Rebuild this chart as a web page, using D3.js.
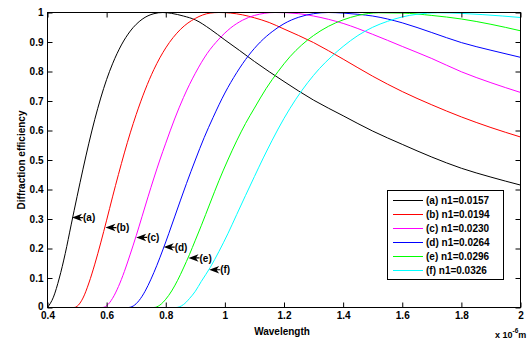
<!DOCTYPE html>
<html>
<head>
<meta charset="utf-8">
<script src="https://cdn.jsdelivr.net/npm/d3@7"></script>
<style>
  html, body { margin: 0; padding: 0; background: #fff; }
  text { font-family: "Liberation Sans", Arial, sans-serif; font-weight: bold; fill: #000; }
</style>
</head>
<body>
<script>
// ---- data (wavelength in units of 1e-6 m, diffraction efficiency) ----
const wlA = [0.40,0.42,0.44,0.46,0.48,0.50,0.52,0.54,0.56,0.58,0.60,0.62,0.65,0.68,0.72,0.76,0.79,0.82,0.86,0.90,0.95,1.00,1.05,1.10,1.20,1.30,1.40,1.50,1.60,1.70,1.80,1.90,2.00];
const effA = [0,0.035,0.10,0.183,0.28,0.376,0.469,0.557,0.638,0.71,0.773,0.826,0.89,0.937,0.977,0.996,1.0,0.997,0.988,0.975,0.944,0.907,0.871,0.834,0.766,0.703,0.65,0.598,0.553,0.51,0.472,0.442,0.415];

const wlB = [0.48,0.49,0.50,0.52,0.54,0.56,0.58,0.60,0.62,0.64,0.66,0.68,0.70,0.73,0.76,0.80,0.85,0.90,0.95,0.98,1.02,1.06,1.10,1.15,1.20,1.30,1.40,1.50,1.60,1.70,1.80,1.90,2.00];
const effB = [0,0,0.004,0.032,0.083,0.147,0.219,0.296,0.375,0.451,0.524,0.592,0.654,0.737,0.807,0.88,0.943,0.98,0.998,1.0,0.998,0.992,0.982,0.966,0.944,0.898,0.842,0.784,0.732,0.687,0.646,0.61,0.578];

const wlC = [0.575,0.585,0.60,0.62,0.64,0.66,0.68,0.70,0.72,0.74,0.76,0.78,0.80,0.83,0.86,0.90,0.94,0.98,1.02,1.06,1.10,1.17,1.25,1.30,1.40,1.50,1.60,1.70,1.80,1.90,2.00];
const effC = [0,0,0.006,0.031,0.071,0.122,0.181,0.243,0.309,0.375,0.439,0.50,0.557,0.639,0.712,0.794,0.861,0.91,0.948,0.974,0.99,1.0,0.996,0.988,0.963,0.926,0.885,0.844,0.799,0.762,0.729];

const wlD = [0.655,0.675,0.69,0.71,0.73,0.75,0.77,0.79,0.81,0.83,0.85,0.87,0.90,0.93,0.96,1.00,1.04,1.08,1.12,1.16,1.20,1.25,1.30,1.35,1.40,1.45,1.50,1.60,1.70,1.80,1.90,2.00];
const effD = [0,0,0.005,0.024,0.055,0.096,0.143,0.195,0.25,0.307,0.364,0.42,0.50,0.576,0.644,0.727,0.796,0.854,0.90,0.935,0.962,0.984,0.996,1.0,0.998,0.994,0.988,0.965,0.932,0.898,0.872,0.848];

const wlE = [0.755,0.76,0.78,0.80,0.82,0.84,0.86,0.88,0.90,0.92,0.95,0.98,1.01,1.04,1.07,1.10,1.14,1.18,1.22,1.26,1.30,1.35,1.40,1.45,1.52,1.60,1.70,1.80,1.90,2.00];
const effE = [0,0,0.008,0.028,0.056,0.092,0.134,0.179,0.228,0.277,0.354,0.43,0.50,0.565,0.624,0.676,0.743,0.80,0.85,0.89,0.922,0.953,0.975,0.99,0.999,0.998,0.99,0.978,0.96,0.938];

const wlF = [0.82,0.835,0.86,0.88,0.90,0.92,0.95,0.98,1.01,1.04,1.07,1.10,1.13,1.16,1.20,1.24,1.28,1.32,1.36,1.40,1.45,1.50,1.55,1.60,1.65,1.72,1.80,1.87,1.94,2.00];
const effF = [0,0,0.01,0.03,0.055,0.088,0.135,0.19,0.25,0.315,0.38,0.444,0.507,0.567,0.641,0.706,0.762,0.81,0.85,0.885,0.922,0.95,0.97,0.985,0.994,0.999,0.997,0.993,0.988,0.983];

const seriesIds = ["a","b","c","d","e","f"];
const n1Values = ["0.0157","0.0194","0.0230","0.0264","0.0296","0.0326"];
const seriesColors = ["#000000","#ff0000","#ff00ff","#0000ff","#00ff00","#00ffff"];

// annotation arrows (tip position in data units)
const arrowWl = [0.483,0.596,0.700,0.793,0.877,0.947];
const arrowEff = [0.305,0.271,0.2375,0.205,0.168,0.128];

const xTicks = [0.4,0.6,0.8,1.0,1.2,1.4,1.6,1.8,2.0];
const xTickLabels = ["0.4","0.6","0.8","1","1.2","1.4","1.6","1.8","2"];
const yTicks = [0,0.1,0.2,0.3,0.4,0.5,0.6,0.7,0.8,0.9,1];
const yTickLabels = ["0","0.1","0.2","0.3","0.4","0.5","0.6","0.7","0.8","0.9","1"];

// ---- drawing ----
const W = 529, H = 342;
const L = 47.5, R = 520.5, T = 12.5, B = 307.5;
const svg = d3.select("body").append("svg").attr("width", W).attr("height", H);

const x = d3.scaleLinear().domain([0.4, 2]).range([L, R]);
const y = d3.scaleLinear().domain([0, 1]).range([B, T]);

const wls = [wlA, wlB, wlC, wlD, wlE, wlF];
const effs = [effA, effB, effC, effD, effE, effF];
const series = seriesIds.map((id, i) => ({
  id, n1: n1Values[i], color: seriesColors[i],
  pts: wls[i].map((w, j) => [w, effs[i][j]])
}));

svg.append("clipPath").attr("id", "clip")
  .append("rect").attr("x", L).attr("y", T - 1).attr("width", R - L).attr("height", B - T + 1);

const line = d3.line().x(d => x(d[0])).y(d => y(d[1])).curve(d3.curveMonotoneX);
svg.append("g").attr("clip-path", "url(#clip)")
  .selectAll("path").data(series).join("path")
  .attr("d", d => line(d.pts))
  .attr("fill", "none").attr("stroke", d => d.color).attr("stroke-width", 1);

// axes with inward ticks
const fmtX = d => xTickLabels[xTicks.indexOf(d)];
const fmtY = d => yTickLabels[yTicks.indexOf(d)];
const gx = svg.append("g").attr("transform", `translate(0,${B})`)
  .call(d3.axisBottom(x).tickValues(xTicks).tickFormat(fmtX).tickSize(-5).tickPadding(4.5));
const gy = svg.append("g").attr("transform", `translate(${L},0)`)
  .call(d3.axisLeft(y).tickValues(yTicks).tickFormat(fmtY).tickSize(-5).tickPadding(4));
const gt = svg.append("g").attr("transform", `translate(0,${T})`)
  .call(d3.axisTop(x).tickValues(xTicks).tickFormat("").tickSize(-5));
const gr = svg.append("g").attr("transform", `translate(${R},0)`)
  .call(d3.axisRight(y).tickValues(yTicks).tickFormat("").tickSize(-5));
[gx, gy, gt, gr].forEach(g => {
  g.select(".domain").remove();
  g.selectAll("line").attr("stroke", "#000");
  g.selectAll("text").attr("font-size", 10).attr("font-family", '"Liberation Sans", Arial, sans-serif').attr("font-weight", "bold");
});
// lift the "0" label slightly so it does not touch "0.4"
gy.selectAll(".tick").filter(d => d === 0).select("text").attr("dy", "0.2em");
svg.append("rect").attr("x", L).attr("y", T).attr("width", R - L).attr("height", B - T)
  .attr("fill", "none").attr("stroke", "#000").attr("stroke-width", 1);

// axis titles
svg.append("text").attr("x", (L + R) / 2 - 2).attr("y", 334.5).attr("text-anchor", "middle")
  .attr("font-size", 10).text("Wavelength");
svg.append("text").attr("transform", `translate(25,${(T + B) / 2}) rotate(-90)`)
  .attr("text-anchor", "middle").attr("font-size", 10).text("Diffraction efficiency");
const ex = svg.append("text").attr("x", 495).attr("y", 338).attr("font-size", 9);
ex.append("tspan").text("x 10");
ex.append("tspan").attr("font-size", 6.5).attr("dy", -5).text("-6");
ex.append("tspan").attr("dy", 5).text("m");

// annotation arrows
const ann = svg.append("g").selectAll("g").data(series).join("g")
  .attr("transform", (d, i) => `translate(${x(arrowWl[i])},${y(arrowEff[i])})`);
ann.append("path").attr("d", "M0,0 L10,-3.8 L7.2,0 L10,3.8 Z M7,-0.6 L11,-0.6 L11,0.6 L7,0.6 Z").attr("fill", "#000");
ann.append("text").attr("x", 11).attr("dy", "0.36em").attr("font-size", 10).text(d => `(${d.id})`);

// legend
const lg = svg.append("g");
lg.append("rect").attr("x", 387.5).attr("y", 190.5).attr("width", 116).attr("height", 89)
  .attr("fill", "#fff").attr("stroke", "#000").attr("stroke-width", 1);
const rows = lg.selectAll("g.row").data(series).join("g").attr("class", "row")
  .attr("transform", (d, i) => `translate(0,${200.5 + i * 14})`);
rows.append("line").attr("x1", 393).attr("x2", 423).attr("y1", 0).attr("y2", 0)
  .attr("stroke", d => d.color).attr("stroke-width", 1);
rows.append("text").attr("x", 426).attr("dy", "0.36em").attr("font-size", 10)
  .text(d => `(${d.id}) n1=${d.n1}`);
</script>
</body>
</html>
